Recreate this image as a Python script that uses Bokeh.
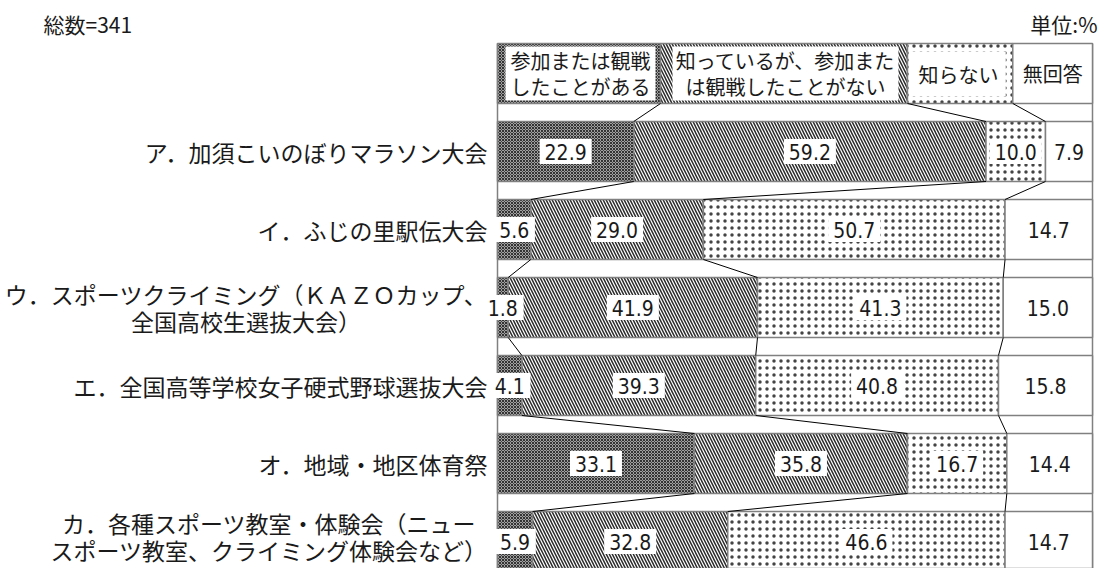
from bokeh.plotting import figure
from bokeh.models import Range1d, ColumnDataSource, Label
from bokeh.core.properties import value
from bokeh.embed import file_html
from bokeh.resources import INLINE

# ---------------- data ----------------
series_names = ["参加または観戦したことがある", "知っているが、参加または観戦したことがない", "知らない", "無回答"]
legend_texts = ["参加または観戦\nしたことがある", "知っているが、参加また\nは観戦したことがない", "知らない", "無回答"]
items = [
    "ア．加須こいのぼりマラソン大会",
    "イ．ふじの里駅伝大会",
    "ウ．スポーツクライミング（ＫＡＺＯカップ、\n全国高校生選抜大会）",
    "エ．全国高等学校女子硬式野球選抜大会",
    "オ．地域・地区体育祭",
    "カ．各種スポーツ教室・体験会（ニュー\nスポーツ教室、クライミング体験会など）",
]
participated = [22.9, 5.6, 1.8, 4.1, 33.1, 5.9]
known_not_participated = [59.2, 29.0, 41.9, 39.3, 35.8, 32.8]
not_known = [10.0, 50.7, 41.3, 40.8, 16.7, 46.6]
no_answer = [7.9, 14.7, 15.0, 15.8, 14.4, 14.7]
total_text = "総数=341"
unit_text = "単位:%"

# ---------------- layout ----------------
W, H = 1100, 568
X0_PX = 497.0
PX_PER_PCT = 5.95
ROW0_PX = 73.0
ROW_STEP = 78.0
BAR_PX = 60.0
LEGEND_WIDTHS = [27.4, 41.5, 17.7, 13.4]          # widths of the legend boxes (%)
LEGEND_INSETS = [(8, 5, 3, 3), (12, 9, 3, 3), (4, 7, 8, 7), (0, 0, 0, 0)]  # l, r, t, b px
JP = "Noto Sans CJK JP"
NUM_FONT = "'DejaVu Sans Condensed', 'Noto Sans CJK JP'"
GRAY = "#808080"
TXT = "#1a1a1a"

styles = [
    dict(fill_color="#a0a0a0", hatch_pattern="diagonal_cross", hatch_color="#333333", hatch_scale=3, hatch_weight=1),
    dict(fill_color="white", hatch_pattern="left_diagonal_line", hatch_color="#2a2a2a", hatch_scale=6, hatch_weight=1.5),
    dict(fill_color="white", hatch_pattern="dot", hatch_color="#444444", hatch_scale=7, hatch_weight=1),
    dict(fill_color="white"),
]

p = figure(width=W, height=H, output_backend="svg", toolbar_location=None,
           x_range=Range1d(-X0_PX / PX_PER_PCT, (W - X0_PX) / PX_PER_PCT),
           y_range=Range1d((H - ROW0_PX) / ROW_STEP, -ROW0_PX / ROW_STEP),
           min_border=0, outline_line_color=None)
p.axis.visible = False
p.grid.visible = False

bar_h = BAR_PX / ROW_STEP
series = [participated, known_not_participated, not_known, no_answer]
n = len(items)

# cumulative edges per row (row 0 = legend)
edges = []
lw_cum = [0.0]
for w in LEGEND_WIDTHS:
    lw_cum.append(lw_cum[-1] + w)
edges.append(lw_cum)
for i in range(n):
    c = [0.0]
    for s in series:
        c.append(c[-1] + s[i])
    edges.append(c)

# frame verticals
top = -bar_h / 2
p.segment(x0=[0, 100], y0=[top, top], x1=[0, 100], y1=[n + 1, n + 1], line_color=GRAY, line_width=1.5)

# bars
for j, st in enumerate(styles):
    left = [edges[r][j] for r in range(n + 1)]
    right = [edges[r][j + 1] for r in range(n + 1)]
    src = ColumnDataSource(dict(y=list(range(n + 1)), left=left, right=right))
    p.hbar(y="y", left="left", right="right", height=bar_h, source=src,
           line_color=GRAY, line_width=1.5, **st)

# connecting lines
x0s, y0s, x1s, y1s = [], [], [], []
for r in range(n):
    for j in range(1, 4):
        x0s.append(edges[r][j]); y0s.append(r + bar_h / 2)
        x1s.append(edges[r + 1][j]); y1s.append(r + 1 - bar_h / 2)
p.segment(x0=x0s, y0=y0s, x1=x1s, y1=y1s, line_color="black", line_width=1)

# legend white boxes + text
for j in range(4):
    l, rr, t, b = LEGEND_INSETS[j]
    xl = edges[0][j] + l / PX_PER_PCT
    xr = edges[0][j + 1] - rr / PX_PER_PCT
    yt = -bar_h / 2 + t / ROW_STEP
    yb = bar_h / 2 - b / ROW_STEP
    if j < 3:
        p.quad(left=[xl], right=[xr], top=[yt], bottom=[yb], fill_color="white", line_color=None)
    p.text(x=[(xl + xr) / 2], y=[(yt + yb) / 2], text=[legend_texts[j]], text_font=value(JP),
           text_font_size="20px", text_align="center", text_baseline="middle", text_color=TXT,
           text_line_height=0.88)

# value labels (white boxes behind)
vx, vy, vt, vw = [], [], [], []
for i in range(n):
    for j in range(4):
        vx.append((edges[i + 1][j] + edges[i + 1][j + 1]) / 2)
        vy.append(i + 1)
        s = f"{series[j][i]:.1f}"
        vt.append(s)
        vw.append(len(s) * 10.5 + 10)
vsrc = ColumnDataSource(dict(x=vx, y=vy, t=vt, w=vw))
p.rect(x="x", y="y", width="w", height=25, width_units="screen", height_units="screen",
       source=vsrc, fill_color="white", line_color=None)
p.text(x="x", y="y", text="t", source=vsrc, text_font=value(NUM_FONT), text_font_size="21px",
       text_align="center", text_baseline="middle", text_color=TXT)

# item labels
FS = 23
single = [(i + 1, t) for i, t in enumerate(items) if "\n" not in t]
multi = [(i + 1, t) for i, t in enumerate(items) if "\n" in t]
ssrc = ColumnDataSource(dict(x=[0] * len(single), y=[r for r, _ in single], t=[t for _, t in single]))
p.text(x="x", y="y", text="t", source=ssrc, x_offset=-10, text_font=value(JP),
       text_font_size=f"{FS}px", text_align="right", text_baseline="middle", text_color=TXT)
moff = [-(10 + max(len(s) for s in t.split("\n")) * FS / 2) for _, t in multi]
myo = [0 if r < n else -5 for r, _ in multi]
msrc = ColumnDataSource(dict(x=[0] * len(multi), y=[r for r, _ in multi], t=[t for _, t in multi],
                             xo=moff, yo=myo))
p.text(x="x", y="y", text="t", source=msrc, x_offset="xo", y_offset="yo", text_font=value(JP),
       text_font_size=f"{FS}px", text_align="center", text_baseline="middle", text_color=TXT,
       text_line_height=0.8)

# titles
p.add_layout(Label(x=43, y=H - 23, x_units="screen", y_units="screen", text=total_text, text_font=JP,
                   text_font_size="21px", text_baseline="middle", text_color=TXT))
p.add_layout(Label(x=1097, y=H - 23, x_units="screen", y_units="screen", text=unit_text, text_font=JP,
                   text_font_size="21px", text_baseline="middle", text_align="right", text_color=TXT))

open("out.html", "w").write(file_html(p, INLINE))
